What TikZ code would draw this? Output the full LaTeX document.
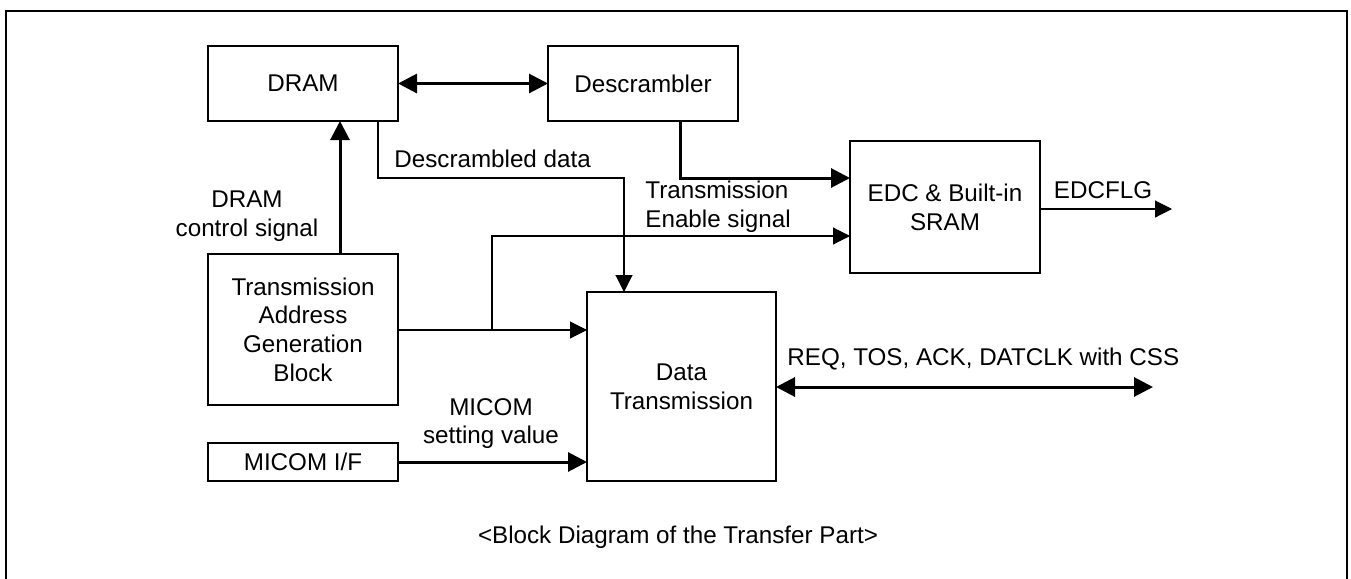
\documentclass[tikz,border=0pt]{standalone}
\usepackage{fontspec}
\setmainfont{Liberation Sans}
\usetikzlibrary{arrows.meta}
\begin{document}
\begin{tikzpicture}[x=0.5pt,y=-0.5pt,
  every node/.style={font=\fontsize{12.1}{14.35}\selectfont},
  blk/.style={draw,line width=0.55pt,inner sep=0pt,outer sep=0pt,align=center},
  thin/.style={line width=0.55pt,-{Triangle[length=8.5pt,width=8.5pt]}},
  thinline/.style={line width=0.55pt},
  thick/.style={line width=1.5pt,-{Triangle[length=9.5pt,width=9.5pt]}},
  thickboth/.style={line width=1.5pt,{Triangle[length=9.5pt,width=9.5pt]}-{Triangle[length=9.5pt,width=9.5pt]}},
  lbl/.style={inner sep=0pt,align=center}]
\useasboundingbox (0,0) rectangle (1351,579);
\draw[line width=1pt] (5.5,579) -- (5.5,11) -- (1346.5,11) -- (1346.5,579);

\node[blk,minimum width=95pt,minimum height=37.5pt] (dram) at (303,83.5) {DRAM};
\node[blk,minimum width=95pt,minimum height=37.5pt] (desc) at (643,83.5) {Descrambler};
\node[blk,minimum width=95pt,minimum height=66pt] (edc) at (945,207) {EDC \& Built-in\\SRAM};
\node[blk,minimum width=95pt,minimum height=75.5pt] (tag) at (303,329.5) {Transmission\\Address\\Generation\\Block};
\node[blk,minimum width=94.5pt,minimum height=94.5pt] (dt) at (681.5,386.5) {Data\\Transmission};
\node[blk,minimum width=95pt,minimum height=19pt] (micom) at (303,462) {MICOM I/F};

\coordinate (j1) at (680,178);
\coordinate (dd) at (378,178);
\coordinate (ddx) at (624,178);
\coordinate (cx) at (340,200);
\coordinate (br) at (492,330);
\coordinate (en) at (492,236);
\coordinate (fl) at (1172,209);
\coordinate (rq) at (1153,387);

\draw[thickboth] (dram.east) -- (desc.west);
\draw[thick] (j1 |- desc.south) -- (j1) -- (j1 -| edc.west);
\draw[thin] (dd |- dram.south) -- (dd) -- (ddx) -- (ddx |- dt.north);
\draw[thick] (cx |- tag.north) -- (cx |- dram.south);
\draw[thin] (tag.east |- br) -- (dt.west |- br);
\draw[thin] (br) -- (en) -- (en -| edc.west);
\draw[thin] (fl -| edc.east) -- (fl);
\draw[thick] (micom.east) -- (micom.east -| dt.west);
\draw[thickboth] (dt.east |- rq) -- (rq);

\node[lbl] (l1) at (247,216) {DRAM\\control signal};
\node[lbl,anchor=west] (l2) at (394,159) {Descrambled data};
\node[lbl,anchor=west,align=left] (l3) at (645,207) {Transmission\\Enable signal};
\node[lbl] (l4) at (1103,190) {EDCFLG};
\node[lbl] (l5) at (491,423.5) {MICOM\\setting value};
\node[lbl,anchor=west] (l6) at (787,359) {REQ, TOS, ACK, DATCLK with CSS};
\node[lbl] (cap) at (678,537) {<Block Diagram of the Transfer Part>};
\end{tikzpicture}
\end{document}
